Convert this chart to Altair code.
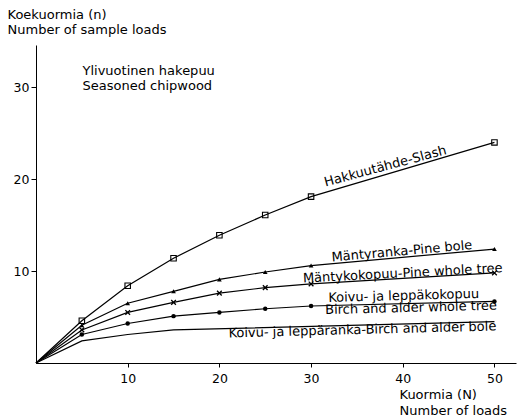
import altair as alt
import pandas as pd

FONT = "DejaVu Sans"

# ---- data ----
loads = [0, 5, 10, 15, 20, 25, 30, 50]
slash = [0, 4.6, 8.4, 11.4, 13.9, 16.1, 18.1, 24.0]
pine_bole = [0, 4.1, 6.5, 7.8, 9.1, 9.9, 10.6, 12.4]
pine_whole = [0, 3.6, 5.5, 6.6, 7.6, 8.2, 8.6, 9.8]
birch_whole = [0, 3.1, 4.3, 5.1, 5.5, 5.9, 6.2, 6.7]
birch_bole_loads = [0, 5, 10, 15, 50]
birch_bole = [0, 2.4, 3.1, 3.6, 4.5]

series_names = ["slash", "pine_bole", "pine_whole", "birch_whole", "birch_bole"]
x_ticks = [10, 20, 30, 40, 50]
y_ticks = [10, 20, 30]

rows = []
for name, ys in [("slash", slash), ("pine_bole", pine_bole),
                 ("pine_whole", pine_whole), ("birch_whole", birch_whole)]:
    for x, y in zip(loads, ys):
        rows.append({"series": name, "x": x, "y": y})
for x, y in zip(birch_bole_loads, birch_bole):
    rows.append({"series": "birch_bole", "x": x, "y": y})
df = pd.DataFrame(rows)

# ---- annotations ----
label_text = ["Hakkuutähde-Slash", "Mäntyranka-Pine bole", "Mäntykokopuu-Pine whole tree",
              "Koivu- ja leppäkokopuu", "Birch and alder whole tree",
              "Koivu- ja leppäranka-Birch and alder bole"]
label_x = [38.1, 39.9, 40.0, 40.1, 40.9, 35.6]
label_y = [21.4, 12.15, 9.75, 7.3, 6.0, 3.6]
label_angle = [345, 355, 357, 358.5, 358.5, 358.5]
labels = pd.DataFrame({"text": label_text, "x": label_x, "y": label_y, "angle": label_angle})

heading = pd.DataFrame({"text": ["Ylivuotinen hakepuu", "Seasoned chipwood"],
                        "x": [5.07, 5.07], "y": [31.3, 29.7]})

xs = alt.Scale(domain=[0, 52.35], nice=False, zero=True)
ys_ = alt.Scale(domain=[0, 34.6], nice=False, zero=True)

x_enc = alt.X("x:Q", scale=xs, axis=alt.Axis(
    values=x_ticks, grid=False, tickSize=4, labelPadding=5, labelFontSize=12.5,
    labelFont=FONT, labelColor="black", domainColor="black", tickColor="black",
    title=["Kuormia (N)", "Number of loads"], titleFont=FONT, titleFontSize=13,
    titleFontWeight="normal", titleColor="black", titleAlign="left", titleAnchor="start",
    titleAngle=0, titleX=363, titleY=35, titleBaseline="alphabetic", titleLineHeight=16))
y_enc = alt.Y("y:Q", scale=ys_, axis=alt.Axis(
    values=y_ticks, grid=False, tickSize=5, labelPadding=2, labelFontSize=12.5,
    labelFont=FONT, labelColor="black", domainColor="black", tickColor="black",
    title=["Koekuormia (n)", "Number of sample loads"], titleFont=FONT, titleFontSize=13,
    titleFontWeight="normal", titleColor="black", titleAlign="left", titleAnchor="start",
    titleAngle=0, titleX=-29, titleY=-27, titleBaseline="alphabetic", titleLineHeight=15.5))

base = alt.Chart(df)
lines = base.mark_line(color="black", strokeWidth=1.2).encode(
    x=x_enc, y=y_enc, detail="series:N", order="x:Q")

pts = df[df["x"] > 0]
def points(name, **kw):
    return alt.Chart(pts[pts["series"] == name]).mark_point(color="black", opacity=1, **kw).encode(
        x=alt.X("x:Q", scale=xs), y=alt.Y("y:Q", scale=ys_))

p_slash = points("slash", shape="square", filled=False, size=30, strokeWidth=1.1)
p_pb = points("pine_bole", shape="triangle-up", filled=True, size=22)
p_pw = points("pine_whole", shape="M-1,-1L1,1M1,-1L-1,1", filled=False, size=22, strokeWidth=1.3)
p_bw = points("birch_whole", shape="circle", filled=True, size=20)

text_layer = alt.Chart(labels).mark_text(
    font=FONT, fontSize=13, color="black", align="center", baseline="middle").encode(
    x=alt.X("x:Q", scale=xs), y=alt.Y("y:Q", scale=ys_), text="text:N",
    angle=alt.Angle("angle:Q", scale=None))

head_layer = alt.Chart(heading).mark_text(
    font=FONT, fontSize=13, color="black", align="left", baseline="alphabetic").encode(
    x=alt.X("x:Q", scale=xs), y=alt.Y("y:Q", scale=ys_), text="text:N")

chart = alt.layer(lines, p_slash, p_pb, p_pw, p_bw, text_layer, head_layer).properties(
    width=480, height=318,
    autosize=alt.AutoSizeParams(type="none"),
    padding={"left": 36, "top": 45, "right": 15, "bottom": 54},
    background="white",
).configure_view(stroke=None)

chart.save("out.html", embed_options={"renderer": "svg", "actions": False})
